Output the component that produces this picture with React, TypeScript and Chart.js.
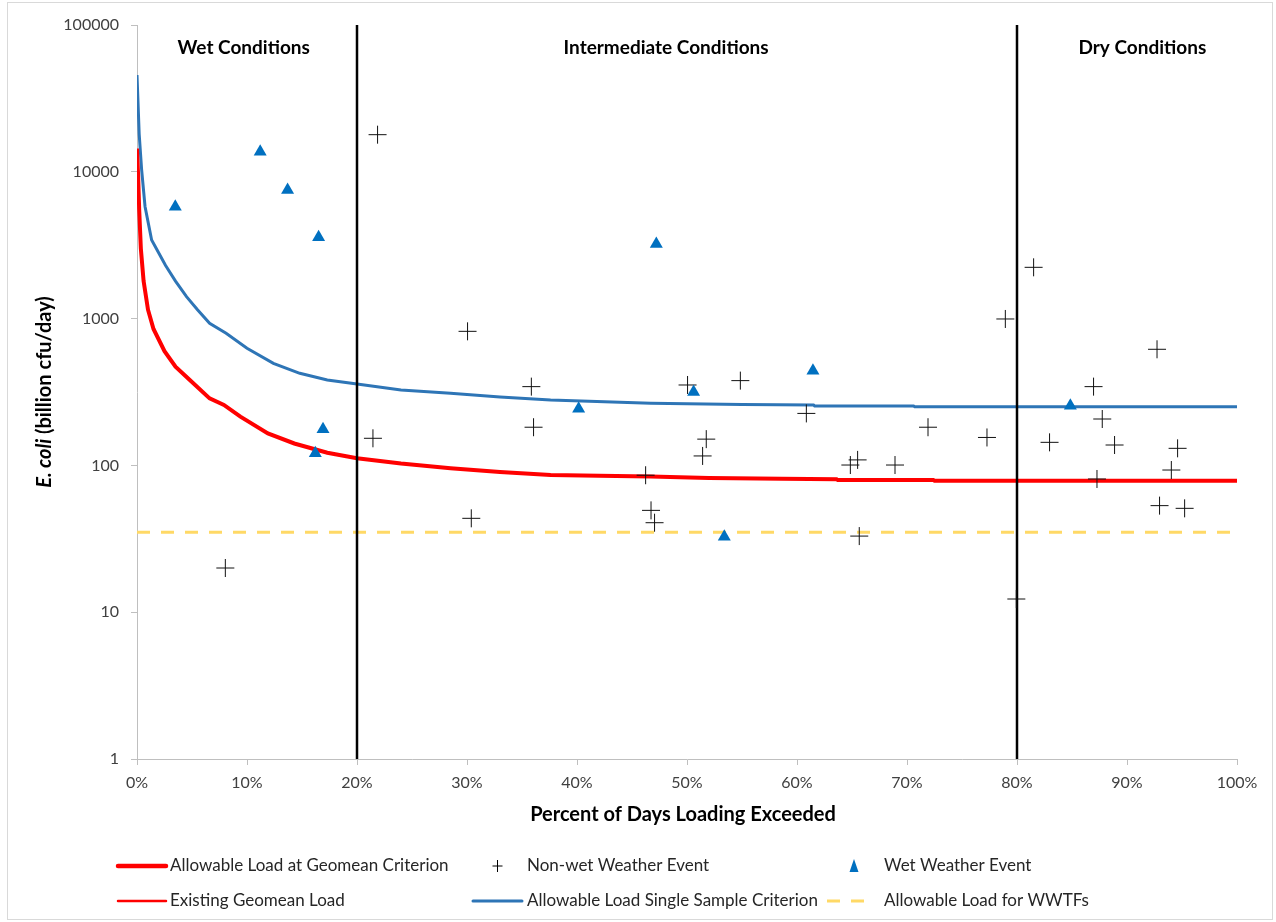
import React, { useEffect, useRef } from 'react';
import { Chart, registerables } from 'chart.js';

Chart.register(...registerables);

// ---------- data ----------
const xTickValues = [0, 10, 20, 30, 40, 50, 60, 70, 80, 90, 100];
const yTickValues = [1, 10, 100, 1000, 10000, 100000];

const conditionBounds = [20, 80];
const conditionLabels = ['Wet Conditions', 'Intermediate Conditions', 'Dry Conditions'];
const conditionLabelX = [9.7, 48.1, 91.4];

const geomeanX = [0, 0.1, 0.2, 0.35, 0.6, 1.0, 1.5, 2.5, 3.5, 4.8, 6.6, 7.9, 9.4, 11.9, 14.3, 17.3, 20, 24, 28.5, 33, 37.6, 42, 46.7, 52, 58.6, 63.6, 63.7, 72.4, 72.5, 100];
const geomeanY = [14400, 9500, 5500, 3000, 1800, 1150, 850, 600, 470, 382, 286, 258, 215, 165, 141, 122, 112, 103, 95.5, 90, 86, 85, 84, 82, 81, 80.5, 79.5, 79.5, 78.7, 78.7];

const singleX = [0, 0.2, 0.42, 0.73, 1.33, 2.6, 3.5, 4.5, 5.5, 6.6, 8.1, 10, 12.4, 14.8, 17.3, 20, 24, 28.5, 33, 37.6, 46.7, 55, 61.5, 61.6, 70.6, 70.7, 100];
const singleY = [45600, 18000, 10340, 5810, 3430, 2300, 1800, 1410, 1150, 929, 794, 628, 496, 424, 382, 358, 326, 310, 292, 279, 265, 260, 258, 254, 254, 251, 251];

const wwtfX = [0, 100];
const wwtfY = [35, 35];

const existingX: number[] = [];
const existingY: number[] = [];

const nonWetX = [8.03, 21.45, 21.87, 30.05, 30.39, 35.85, 36.05, 46.24, 46.73, 47.05, 50.05, 51.42, 51.75, 54.85, 60.85, 64.85, 65.51, 65.66, 68.91, 71.91, 77.27, 78.94, 79.94, 81.51, 82.96, 86.96, 87.27, 87.75, 88.87, 92.73, 92.96, 94.03, 94.6, 95.24];
const nonWetY = [20, 153, 17900, 819, 43.6, 344, 182, 85.7, 49.4, 40.7, 353, 116, 151, 378, 226, 100.6, 109, 33, 100.6, 182, 155, 994, 12.3, 2235, 143.6, 344, 80.8, 207, 137.7, 618, 53.2, 93, 130.7, 51];

const wetX = [3.48, 11.2, 13.69, 16.21, 16.51, 16.91, 40.15, 47.21, 50.6, 53.39, 61.45, 84.85];
const wetY = [5785, 13700, 7515, 121, 3580, 176, 243, 3222, 316, 32.7, 442, 255];

const xTitle = 'Percent of Days Loading Exceeded';
const yTitleItalic = 'E. coli';
const yTitleRest = ' (billion cfu/day)';

// ---------- styles ----------
const RED = '#FF0000';
const BLUE = '#2E75B6';
const YELLOW = '#FFD966';
const TRI = '#0070C0';
const AXIS = '#BFBFBF';
const TEXT = '#262626';
const FONT = 'Lato, "Open Sans", sans-serif';

const pts = (xs: number[], ys: number[]) => xs.map((x, i) => ({ x, y: ys[i] }));

const legendEntries = [
  { label: 'Allowable Load at Geomean Criterion', kind: 'line', color: RED, width: 4.5, col: 0, row: 0 },
  { label: 'Non-wet Weather Event', kind: 'cross', color: '#000', width: 1, col: 1, row: 0 },
  { label: 'Wet Weather Event', kind: 'triangle', color: TRI, width: 1, col: 2, row: 0 },
  { label: 'Existing Geomean Load', kind: 'line', color: RED, width: 2.5, col: 0, row: 1 },
  { label: 'Allowable Load Single Sample Criterion', kind: 'line', color: BLUE, width: 3, col: 1, row: 1 },
  { label: 'Allowable Load for WWTFs', kind: 'dash', color: YELLOW, width: 3, col: 2, row: 1 },
];
const legendCols = [
  { m1: 118, m2: 166, text: 170 },
  { m1: 473, m2: 522, text: 527 },
  { m1: 827, m2: 865, text: 884 },
];
const legendRows = [866, 901];

const decorPlugin = {
  id: 'decor',
  beforeDraw(chart: any) {
    const ctx = chart.ctx;
    ctx.save();
    ctx.fillStyle = '#fff';
    ctx.fillRect(0, 0, chart.width, chart.height);
    ctx.strokeStyle = '#D9D9D9';
    ctx.lineWidth = 1;
    ctx.strokeRect(7.5, 2.5, chart.width - 11, chart.height - 5);
    ctx.restore();
  },
  afterDraw(chart: any) {
    const ctx = chart.ctx;
    const xs = chart.scales.x;
    const area = chart.chartArea;
    ctx.save();
    ctx.fillStyle = '#000';
    ctx.textBaseline = 'middle';
    // condition labels
    ctx.font = `bold 19px ${FONT}`;
    ctx.textAlign = 'center';
    conditionLabels.forEach((t, i) => {
      ctx.fillText(t, xs.getPixelForValue(conditionLabelX[i]), area.top + 23);
    });
    // x title
    ctx.font = `bold 20px ${FONT}`;
    ctx.fillText(xTitle, (area.left + area.right) / 2 - 4, 815);
    // y title
    ctx.save();
    ctx.translate(45, (area.top + area.bottom) / 2);
    ctx.rotate(-Math.PI / 2);
    ctx.textAlign = 'left';
    const fItalic = `italic bold 20px ${FONT}`;
    const fBold = `bold 20px ${FONT}`;
    ctx.font = fItalic;
    const w1 = ctx.measureText(yTitleItalic).width;
    ctx.font = fBold;
    const w2 = ctx.measureText(yTitleRest).width;
    const start = -(w1 + w2) / 2;
    ctx.font = fItalic;
    ctx.fillText(yTitleItalic, start, 0);
    ctx.font = fBold;
    ctx.fillText(yTitleRest, start + w1, 0);
    ctx.restore();
    // legend
    ctx.font = `17px ${FONT}`;
    ctx.textAlign = 'left';
    legendEntries.forEach((e) => {
      const c = legendCols[e.col];
      const y = legendRows[e.row];
      const cx = (c.m1 + c.m2) / 2;
      ctx.save();
      ctx.strokeStyle = e.color;
      ctx.fillStyle = e.color;
      ctx.lineWidth = e.width;
      if (e.kind === 'line') {
        ctx.lineCap = 'round';
        ctx.beginPath();
        ctx.moveTo(c.m1, y);
        ctx.lineTo(c.m2, y);
        ctx.stroke();
      } else if (e.kind === 'dash') {
        ctx.setLineDash([13, 11]);
        ctx.beginPath();
        ctx.moveTo(c.m1, y);
        ctx.lineTo(c.m2, y);
        ctx.stroke();
      } else if (e.kind === 'cross') {
        ctx.beginPath();
        ctx.moveTo(cx - 5, y);
        ctx.lineTo(cx + 5, y);
        ctx.moveTo(cx, y - 6);
        ctx.lineTo(cx, y + 6);
        ctx.stroke();
      } else if (e.kind === 'triangle') {
        const tx = 854;
        ctx.beginPath();
        ctx.moveTo(tx, y - 7);
        ctx.lineTo(tx + 4.5, y + 6);
        ctx.lineTo(tx - 4.5, y + 6);
        ctx.closePath();
        ctx.fill();
      }
      ctx.restore();
      ctx.fillStyle = TEXT;
      ctx.fillText(e.label, c.text, y);
    });
    ctx.restore();
  },
};

export default function App() {
  const ref = useRef<HTMLCanvasElement | null>(null);
  useEffect(() => {
    if (!ref.current) return;
    const chart = new Chart(ref.current, {
      type: 'scatter',
      data: {
        datasets: [
          {
            label: 'Wet Weather Event',
            data: pts(wetX, wetY),
            pointStyle: 'triangle',
            pointRadius: 7.5,
            backgroundColor: TRI,
            borderColor: TRI,
            borderWidth: 0,
            showLine: false,
          },
          {
            label: 'Non-wet Weather Event',
            data: pts(nonWetX, nonWetY),
            pointStyle: 'cross',
            pointRadius: 9,
            borderColor: '#111',
            borderWidth: 1,
            showLine: false,
          },
          {
            label: 'bound1',
            data: [{ x: conditionBounds[0], y: 1 }, { x: conditionBounds[0], y: 100000 }],
            showLine: true,
            borderColor: '#000',
            borderWidth: 2.5,
            pointRadius: 0,
          },
          {
            label: 'bound2',
            data: [{ x: conditionBounds[1], y: 1 }, { x: conditionBounds[1], y: 100000 }],
            showLine: true,
            borderColor: '#000',
            borderWidth: 2.5,
            pointRadius: 0,
          },
          {
            label: 'Allowable Load at Geomean Criterion',
            data: pts(geomeanX, geomeanY),
            showLine: true,
            borderColor: RED,
            borderWidth: 4,
            pointRadius: 0,
            tension: 0,
          },
          {
            label: 'Existing Geomean Load',
            data: pts(existingX, existingY),
            showLine: true,
            borderColor: RED,
            borderWidth: 2,
            pointRadius: 0,
          },
          {
            label: 'Allowable Load Single Sample Criterion',
            data: pts(singleX, singleY),
            showLine: true,
            borderColor: BLUE,
            borderWidth: 3,
            pointRadius: 0,
            tension: 0,
          },
          {
            label: 'Allowable Load for WWTFs',
            data: pts(wwtfX, wwtfY),
            showLine: true,
            borderColor: YELLOW,
            borderWidth: 3,
            borderDash: [13, 11],
            pointRadius: 0,
          },
        ],
      },
      options: {
        animation: false,
        responsive: false,
        events: [],
        layout: { padding: { top: 25, right: 39, bottom: 0, left: 0 } },
        plugins: { legend: { display: false }, tooltip: { enabled: false } },
        scales: {
          x: {
            type: 'linear',
            min: 0,
            max: 100,
            afterBuildTicks: (s: any) => {
              s.ticks = xTickValues.map((v) => ({ value: v }));
            },
            afterFit: (s: any) => {
              s.height = 163;
            },
            ticks: {
              callback: (v: any) => `${v}%`,
              font: { family: FONT, size: 16 },
              color: '#404040',
              padding: 8,
              maxRotation: 0,
            },
            grid: { display: true, drawOnChartArea: false, drawTicks: true, tickLength: 6, color: AXIS },
            border: { display: true, color: AXIS, width: 1 },
          },
          y: {
            type: 'logarithmic',
            min: 1,
            max: 100000,
            afterBuildTicks: (s: any) => {
              s.ticks = yTickValues.map((v) => ({ value: v }));
            },
            afterFit: (s: any) => {
              s.width = 137;
            },
            ticks: {
              callback: (v: any) => String(v),
              font: { family: FONT, size: 16 },
              color: '#404040',
              padding: 12,
            },
            grid: { display: true, drawOnChartArea: false, drawTicks: true, tickLength: 6, color: AXIS },
            border: { display: true, color: AXIS, width: 1 },
          },
        },
      },
      plugins: [decorPlugin],
    } as any);
    return () => chart.destroy();
  }, []);
  return (
    <canvas
      ref={ref}
      width={1276}
      height={922}
      style={{ position: 'absolute', left: 0, top: 0, width: 1276, height: 922 }}
    />
  );
}
